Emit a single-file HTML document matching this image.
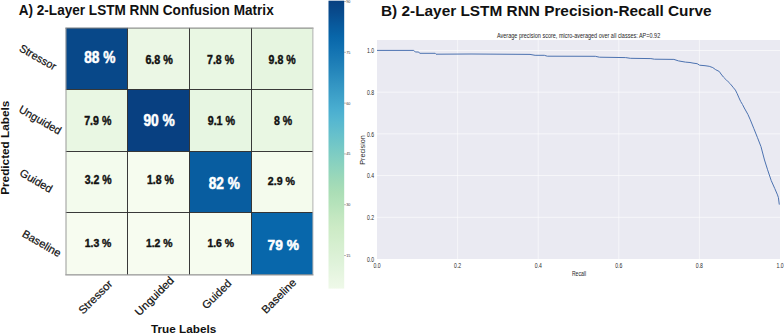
<!DOCTYPE html>
<html><head><meta charset="utf-8"><style>
html,body{margin:0;padding:0;background:#fff;width:784px;height:334px;overflow:hidden;}
svg{display:block;}
</style></head><body>
<svg width="784" height="334" viewBox="0 0 784 334"><text x="18.7" y="14.8" font-family='"Liberation Sans", sans-serif' font-weight="bold" font-size="13.9" textLength="255" lengthAdjust="spacingAndGlyphs" fill="#111">A) 2-Layer LSTM RNN Confusion Matrix</text>
<rect x="65.8" y="27.9" width="61.70" height="61.60" fill="#084889"/>
<rect x="127.5" y="27.9" width="62.00" height="61.60" fill="#ebf7e5"/>
<rect x="189.5" y="27.9" width="62.00" height="61.60" fill="#e9f7e3"/>
<rect x="251.5" y="27.9" width="61.50" height="61.60" fill="#e6f5e0"/>
<rect x="65.8" y="89.5" width="61.70" height="62.00" fill="#e9f7e3"/>
<rect x="127.5" y="89.5" width="62.00" height="62.00" fill="#084081"/>
<rect x="189.5" y="89.5" width="62.00" height="62.00" fill="#e7f6e2"/>
<rect x="251.5" y="89.5" width="61.50" height="62.00" fill="#e9f7e3"/>
<rect x="65.8" y="151.5" width="61.70" height="61.00" fill="#f3fbed"/>
<rect x="127.5" y="151.5" width="62.00" height="61.00" fill="#f6fcef"/>
<rect x="189.5" y="151.5" width="62.00" height="61.00" fill="#085da0"/>
<rect x="251.5" y="151.5" width="61.50" height="61.00" fill="#f4fbed"/>
<rect x="65.8" y="212.5" width="61.70" height="62.10" fill="#f7fcf0"/>
<rect x="127.5" y="212.5" width="62.00" height="62.10" fill="#f7fcf0"/>
<rect x="189.5" y="212.5" width="62.00" height="62.10" fill="#f6fcef"/>
<rect x="251.5" y="212.5" width="61.50" height="62.10" fill="#0867ab"/>
<line x1="127.5" y1="27.9" x2="127.5" y2="274.6" stroke="#2e2e2e" stroke-width="0.95"/>
<line x1="189.5" y1="27.9" x2="189.5" y2="274.6" stroke="#2e2e2e" stroke-width="0.95"/>
<line x1="251.5" y1="27.9" x2="251.5" y2="274.6" stroke="#2e2e2e" stroke-width="0.95"/>
<line x1="65.8" y1="89.5" x2="313.0" y2="89.5" stroke="#2e2e2e" stroke-width="0.95"/>
<line x1="65.8" y1="151.5" x2="313.0" y2="151.5" stroke="#2e2e2e" stroke-width="0.95"/>
<line x1="65.8" y1="212.5" x2="313.0" y2="212.5" stroke="#2e2e2e" stroke-width="0.95"/>
<line x1="65.3" y1="28.1" x2="313.5" y2="28.1" stroke="#7a7a7a" stroke-width="1"/>
<line x1="65.3" y1="274.9" x2="313.5" y2="274.9" stroke="#7a7a7a" stroke-width="1"/>
<line x1="66.0" y1="27.9" x2="66.0" y2="274.6" stroke="#9a9a9a" stroke-width="1"/>
<line x1="312.9" y1="27.9" x2="312.9" y2="274.6" stroke="#b0b0b0" stroke-width="1"/>
<text x="84.20" y="63.40" font-family='"Liberation Sans", sans-serif' font-weight="bold" font-size="16.00" textLength="31.20" lengthAdjust="spacingAndGlyphs" fill="#ffffff" stroke="#ffffff" stroke-width="0.55">88 %</text>
<text x="145.40" y="63.60" font-family='"Liberation Sans", sans-serif' font-weight="bold" font-size="12.00" textLength="27.50" lengthAdjust="spacingAndGlyphs" fill="#111111" stroke="#111111" stroke-width="0.4">6.8 %</text>
<text x="207.10" y="63.60" font-family='"Liberation Sans", sans-serif' font-weight="bold" font-size="12.45" textLength="26.90" lengthAdjust="spacingAndGlyphs" fill="#111111" stroke="#111111" stroke-width="0.4">7.8 %</text>
<text x="268.60" y="63.90" font-family='"Liberation Sans", sans-serif' font-weight="bold" font-size="12.30" textLength="27.10" lengthAdjust="spacingAndGlyphs" fill="#111111" stroke="#111111" stroke-width="0.4">9.8 %</text>
<text x="84.20" y="124.90" font-family='"Liberation Sans", sans-serif' font-weight="bold" font-size="12.90" textLength="27.20" lengthAdjust="spacingAndGlyphs" fill="#111111" stroke="#111111" stroke-width="0.4">7.9 %</text>
<text x="143.40" y="125.70" font-family='"Liberation Sans", sans-serif' font-weight="bold" font-size="16.00" textLength="31.40" lengthAdjust="spacingAndGlyphs" fill="#ffffff" stroke="#ffffff" stroke-width="0.55">90 %</text>
<text x="207.70" y="124.70" font-family='"Liberation Sans", sans-serif' font-weight="bold" font-size="12.15" textLength="27.40" lengthAdjust="spacingAndGlyphs" fill="#111111" stroke="#111111" stroke-width="0.4">9.1 %</text>
<text x="273.90" y="124.70" font-family='"Liberation Sans", sans-serif' font-weight="bold" font-size="12.15" textLength="18.20" lengthAdjust="spacingAndGlyphs" fill="#111111" stroke="#111111" stroke-width="0.4">8 %</text>
<text x="84.70" y="184.20" font-family='"Liberation Sans", sans-serif' font-weight="bold" font-size="11.85" textLength="26.90" lengthAdjust="spacingAndGlyphs" fill="#111111" stroke="#111111" stroke-width="0.4">3.2 %</text>
<text x="147.00" y="184.40" font-family='"Liberation Sans", sans-serif' font-weight="bold" font-size="12.15" textLength="26.90" lengthAdjust="spacingAndGlyphs" fill="#111111" stroke="#111111" stroke-width="0.4">1.8 %</text>
<text x="208.70" y="188.70" font-family='"Liberation Sans", sans-serif' font-weight="bold" font-size="15.86" textLength="31.10" lengthAdjust="spacingAndGlyphs" fill="#ffffff" stroke="#ffffff" stroke-width="0.55">82 %</text>
<text x="267.80" y="185.00" font-family='"Liberation Sans", sans-serif' font-weight="bold" font-size="11.40" textLength="27.10" lengthAdjust="spacingAndGlyphs" fill="#111111" stroke="#111111" stroke-width="0.4">2.9 %</text>
<text x="84.70" y="246.60" font-family='"Liberation Sans", sans-serif' font-weight="bold" font-size="11.55" textLength="26.70" lengthAdjust="spacingAndGlyphs" fill="#111111" stroke="#111111" stroke-width="0.4">1.3 %</text>
<text x="145.90" y="246.60" font-family='"Liberation Sans", sans-serif' font-weight="bold" font-size="11.55" textLength="26.60" lengthAdjust="spacingAndGlyphs" fill="#111111" stroke="#111111" stroke-width="0.4">1.2 %</text>
<text x="207.40" y="246.60" font-family='"Liberation Sans", sans-serif' font-weight="bold" font-size="11.55" textLength="26.60" lengthAdjust="spacingAndGlyphs" fill="#111111" stroke="#111111" stroke-width="0.4">1.6 %</text>
<text x="267.50" y="250.30" font-family='"Liberation Sans", sans-serif' font-weight="bold" font-size="15.43" textLength="31.40" lengthAdjust="spacingAndGlyphs" fill="#ffffff" stroke="#ffffff" stroke-width="0.55">79 %</text>
<text transform="translate(38.0,57.1) rotate(30)" x="0" y="0" text-anchor="middle" dominant-baseline="central" font-family='"Liberation Sans", sans-serif' font-size="11" textLength="40.5" lengthAdjust="spacingAndGlyphs" fill="#111" stroke="#111" stroke-width="0.2">Stressor</text>
<text transform="translate(40.3,119.7) rotate(30)" x="0" y="0" text-anchor="middle" dominant-baseline="central" font-family='"Liberation Sans", sans-serif' font-size="11" textLength="47.0" lengthAdjust="spacingAndGlyphs" fill="#111" stroke="#111" stroke-width="0.2">Unguided</text>
<text transform="translate(36.2,180.6) rotate(30)" x="0" y="0" text-anchor="middle" dominant-baseline="central" font-family='"Liberation Sans", sans-serif' font-size="11" textLength="35.8" lengthAdjust="spacingAndGlyphs" fill="#111" stroke="#111" stroke-width="0.2">Guided</text>
<text transform="translate(41.8,243.2) rotate(30)" x="0" y="0" text-anchor="middle" dominant-baseline="central" font-family='"Liberation Sans", sans-serif' font-size="11" textLength="43.0" lengthAdjust="spacingAndGlyphs" fill="#111" stroke="#111" stroke-width="0.2">Baseline</text>
<text transform="translate(95.3,296.8) rotate(-45)" x="0" y="0" text-anchor="middle" dominant-baseline="central" font-family='"Liberation Sans", sans-serif' font-size="11" textLength="43.0" lengthAdjust="spacingAndGlyphs" fill="#111" stroke="#111" stroke-width="0.2">Stressor</text>
<text transform="translate(154.2,295.9) rotate(-45)" x="0" y="0" text-anchor="middle" dominant-baseline="central" font-family='"Liberation Sans", sans-serif' font-size="11" textLength="50.0" lengthAdjust="spacingAndGlyphs" fill="#111" stroke="#111" stroke-width="0.2">Unguided</text>
<text transform="translate(216.6,294.1) rotate(-45)" x="0" y="0" text-anchor="middle" dominant-baseline="central" font-family='"Liberation Sans", sans-serif' font-size="11" textLength="36.5" lengthAdjust="spacingAndGlyphs" fill="#111" stroke="#111" stroke-width="0.2">Guided</text>
<text transform="translate(278.7,295.9) rotate(-45)" x="0" y="0" text-anchor="middle" dominant-baseline="central" font-family='"Liberation Sans", sans-serif' font-size="11" textLength="44.0" lengthAdjust="spacingAndGlyphs" fill="#111" stroke="#111" stroke-width="0.2">Baseline</text>
<text transform="translate(9.1,147.75) rotate(-90)" x="0" y="0" text-anchor="middle" font-family='"Liberation Sans", sans-serif' font-weight="bold" font-size="11.4" textLength="94.2" lengthAdjust="spacingAndGlyphs" fill="#111">Predicted Labels</text>
<text x="151" y="332.6" font-family='"Liberation Sans", sans-serif' font-weight="bold" font-size="11.8" textLength="65.3" lengthAdjust="spacingAndGlyphs" fill="#111">True Labels</text>
<defs><linearGradient id="cb" x1="0" y1="0" x2="0" y2="1"><stop offset="0.0000" stop-color="#084081"/><stop offset="0.0417" stop-color="#084b8d"/><stop offset="0.0833" stop-color="#08599c"/><stop offset="0.1250" stop-color="#0866a9"/><stop offset="0.1667" stop-color="#1171b1"/><stop offset="0.2083" stop-color="#1c7cb6"/><stop offset="0.2500" stop-color="#2788bc"/><stop offset="0.2917" stop-color="#3395c3"/><stop offset="0.3333" stop-color="#3ea1c9"/><stop offset="0.3750" stop-color="#49add0"/><stop offset="0.4167" stop-color="#56b7d0"/><stop offset="0.4583" stop-color="#64bfcc"/><stop offset="0.5000" stop-color="#72c7c7"/><stop offset="0.5417" stop-color="#81cec2"/><stop offset="0.5833" stop-color="#8fd4bd"/><stop offset="0.6250" stop-color="#9ed9b8"/><stop offset="0.6667" stop-color="#abdeb6"/><stop offset="0.7083" stop-color="#b6e3bb"/><stop offset="0.7500" stop-color="#c3e7c1"/><stop offset="0.7917" stop-color="#cdebc6"/><stop offset="0.8333" stop-color="#d3eecd"/><stop offset="0.8750" stop-color="#daf0d4"/><stop offset="0.9167" stop-color="#e0f3db"/><stop offset="0.9583" stop-color="#e8f6e2"/><stop offset="1.0000" stop-color="#eff9e9"/></linearGradient></defs>
<rect x="328.5" y="0.7" width="15.70" height="287.90" fill="url(#cb)"/>
<line x1="344.2" y1="1.50" x2="345.80" y2="1.50" stroke="#555" stroke-width="0.5"/>
<text x="346.20" y="2.95" font-family='"Liberation Sans", sans-serif' font-size="4" textLength="4.2" lengthAdjust="spacingAndGlyphs" fill="#333">90</text>
<line x1="344.2" y1="52.30" x2="345.80" y2="52.30" stroke="#555" stroke-width="0.5"/>
<text x="346.20" y="53.76" font-family='"Liberation Sans", sans-serif' font-size="4" textLength="4.2" lengthAdjust="spacingAndGlyphs" fill="#333">75</text>
<line x1="344.2" y1="103.11" x2="345.80" y2="103.11" stroke="#555" stroke-width="0.5"/>
<text x="346.20" y="104.56" font-family='"Liberation Sans", sans-serif' font-size="4" textLength="4.2" lengthAdjust="spacingAndGlyphs" fill="#333">60</text>
<line x1="344.2" y1="153.91" x2="345.80" y2="153.91" stroke="#555" stroke-width="0.5"/>
<text x="346.20" y="155.36" font-family='"Liberation Sans", sans-serif' font-size="4" textLength="4.2" lengthAdjust="spacingAndGlyphs" fill="#333">45</text>
<line x1="344.2" y1="204.72" x2="345.80" y2="204.72" stroke="#555" stroke-width="0.5"/>
<text x="346.20" y="206.17" font-family='"Liberation Sans", sans-serif' font-size="4" textLength="4.2" lengthAdjust="spacingAndGlyphs" fill="#333">30</text>
<line x1="344.2" y1="255.53" x2="345.80" y2="255.53" stroke="#555" stroke-width="0.5"/>
<text x="346.20" y="256.98" font-family='"Liberation Sans", sans-serif' font-size="4" textLength="4.2" lengthAdjust="spacingAndGlyphs" fill="#333">15</text>
<text x="381" y="15.6" font-family='"Liberation Sans", sans-serif' font-weight="bold" font-size="14.8" textLength="330.6" lengthAdjust="spacingAndGlyphs" fill="#111">B) 2-Layer LSTM RNN Precision-Recall Curve</text>
<text x="578.6" y="37.6" text-anchor="middle" font-family='"Liberation Sans", sans-serif' font-size="6.4" textLength="163.2" lengthAdjust="spacingAndGlyphs" fill="#262626">Average precision score, micro-averaged over all classes: AP=0.92</text>
<rect x="377.0" y="40.0" width="403.0" height="219.0" fill="#eaeaf2"/>
<line x1="457.60" y1="40.0" x2="457.60" y2="259.0" stroke="#ffffff" stroke-opacity="0.55" stroke-width="1"/>
<line x1="538.20" y1="40.0" x2="538.20" y2="259.0" stroke="#ffffff" stroke-opacity="0.55" stroke-width="1"/>
<line x1="618.80" y1="40.0" x2="618.80" y2="259.0" stroke="#ffffff" stroke-opacity="0.55" stroke-width="1"/>
<line x1="699.40" y1="40.0" x2="699.40" y2="259.0" stroke="#ffffff" stroke-opacity="0.55" stroke-width="1"/>
<line x1="377.0" y1="217.29" x2="780.0" y2="217.29" stroke="#ffffff" stroke-opacity="0.6" stroke-width="1"/>
<line x1="377.0" y1="175.57" x2="780.0" y2="175.57" stroke="#ffffff" stroke-opacity="0.6" stroke-width="1"/>
<line x1="377.0" y1="133.86" x2="780.0" y2="133.86" stroke="#ffffff" stroke-opacity="0.6" stroke-width="1"/>
<line x1="377.0" y1="92.14" x2="780.0" y2="92.14" stroke="#ffffff" stroke-opacity="0.6" stroke-width="1"/>
<line x1="377.0" y1="50.43" x2="780.0" y2="50.43" stroke="#ffffff" stroke-opacity="0.6" stroke-width="1"/>
<polyline fill="none" stroke="#4c72b0" stroke-width="1" stroke-linejoin="round" points="377.0,50.4 413.8,50.4 415.3,52.0 418.7,52.0 419.7,53.3 435.2,53.3 436.0,54.2 471.0,54.0 530.0,54.4 535.1,55.3 544.3,55.3 547.3,56.2 595.3,56.3 599.4,57.2 625.7,57.6 630.3,58.3 650.9,58.6 654.4,59.2 673.9,59.4 678.5,60.9 685.4,62.1 690.0,62.5 693.0,63.1 697.2,63.7 699.6,65.2 705.0,65.7 709.2,66.3 712.8,67.6 715.7,69.7 719.3,71.5 721.0,74.0 723.4,77.0 725.8,79.4 728.2,81.8 730.6,84.2 733.0,87.2 735.4,90.1 737.2,93.7 739.0,97.9 740.7,101.5 742.5,104.5 744.3,108.0 747.9,114.4 750.3,119.8 753.9,128.7 757.5,137.7 761.0,146.7 764.5,160.0 767.6,169.8 771.2,180.5 774.8,188.6 777.5,194.9 778.4,197.6 779.3,204.6"/>
<text x="374.1" y="261.85" text-anchor="end" font-family='"Liberation Sans", sans-serif' font-size="6.9" textLength="7.1" lengthAdjust="spacingAndGlyphs" fill="#2a2a2a">0.0</text>
<text x="377.00" y="268.40" text-anchor="middle" font-family='"Liberation Sans", sans-serif' font-size="6.9" textLength="7.1" lengthAdjust="spacingAndGlyphs" fill="#2a2a2a">0.0</text>
<text x="374.1" y="220.14" text-anchor="end" font-family='"Liberation Sans", sans-serif' font-size="6.9" textLength="7.1" lengthAdjust="spacingAndGlyphs" fill="#2a2a2a">0.2</text>
<text x="457.60" y="268.40" text-anchor="middle" font-family='"Liberation Sans", sans-serif' font-size="6.9" textLength="7.1" lengthAdjust="spacingAndGlyphs" fill="#2a2a2a">0.2</text>
<text x="374.1" y="178.42" text-anchor="end" font-family='"Liberation Sans", sans-serif' font-size="6.9" textLength="7.1" lengthAdjust="spacingAndGlyphs" fill="#2a2a2a">0.4</text>
<text x="538.20" y="268.40" text-anchor="middle" font-family='"Liberation Sans", sans-serif' font-size="6.9" textLength="7.1" lengthAdjust="spacingAndGlyphs" fill="#2a2a2a">0.4</text>
<text x="374.1" y="136.71" text-anchor="end" font-family='"Liberation Sans", sans-serif' font-size="6.9" textLength="7.1" lengthAdjust="spacingAndGlyphs" fill="#2a2a2a">0.6</text>
<text x="618.80" y="268.40" text-anchor="middle" font-family='"Liberation Sans", sans-serif' font-size="6.9" textLength="7.1" lengthAdjust="spacingAndGlyphs" fill="#2a2a2a">0.6</text>
<text x="374.1" y="94.99" text-anchor="end" font-family='"Liberation Sans", sans-serif' font-size="6.9" textLength="7.1" lengthAdjust="spacingAndGlyphs" fill="#2a2a2a">0.8</text>
<text x="699.40" y="268.40" text-anchor="middle" font-family='"Liberation Sans", sans-serif' font-size="6.9" textLength="7.1" lengthAdjust="spacingAndGlyphs" fill="#2a2a2a">0.8</text>
<text x="374.1" y="53.28" text-anchor="end" font-family='"Liberation Sans", sans-serif' font-size="6.9" textLength="7.1" lengthAdjust="spacingAndGlyphs" fill="#2a2a2a">1.0</text>
<text x="780.00" y="268.40" text-anchor="middle" font-family='"Liberation Sans", sans-serif' font-size="6.9" textLength="7.1" lengthAdjust="spacingAndGlyphs" fill="#2a2a2a">1.0</text>
<text x="579" y="276.2" text-anchor="middle" font-family='"Liberation Sans", sans-serif' font-size="6.8" textLength="14.1" lengthAdjust="spacingAndGlyphs" fill="#262626">Recall</text>
<text transform="translate(365.2,150) rotate(-90)" x="0" y="0" text-anchor="middle" font-family='"Liberation Sans", sans-serif' font-size="6.4" textLength="29.4" lengthAdjust="spacingAndGlyphs" fill="#262626">Precision</text></svg>
</body></html>
